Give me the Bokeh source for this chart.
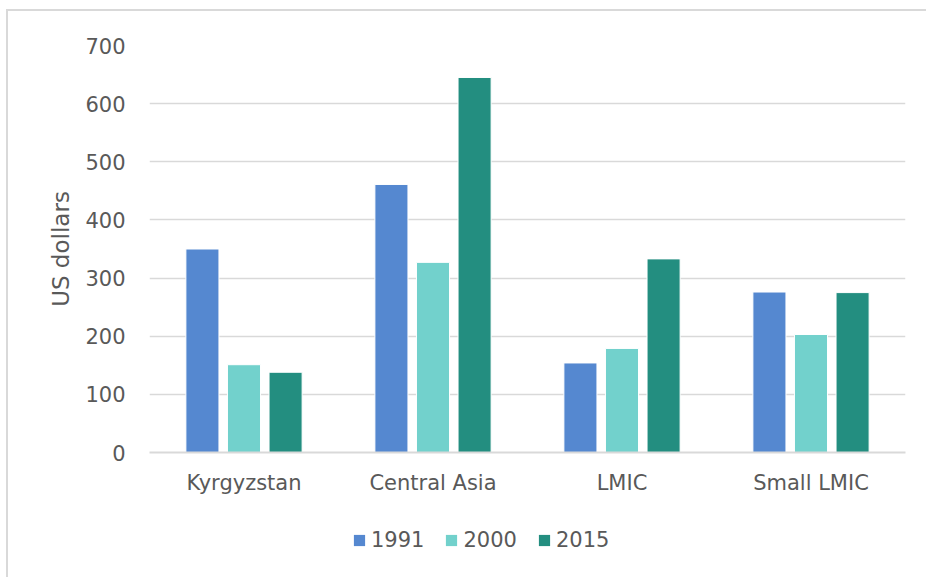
from bokeh.plotting import figure
from bokeh.models import ColumnDataSource, FactorRange, Legend, LegendItem, Range1d
from bokeh.layouts import column
from bokeh.transform import dodge
from bokeh.embed import file_html
from bokeh.resources import INLINE

categories = ["Kyrgyzstan", "Central Asia", "LMIC", "Small LMIC"]
years = ["1991", "2000", "2015"]
v1991 = [350, 461, 154, 276]
v2000 = [151, 327, 179, 203]
v2015 = [138, 645, 333, 275]
y_ticks = [0, 100, 200, 300, 400, 500, 600, 700]
colors = ["#5588d0", "#72d1cc", "#238e80"]

src = ColumnDataSource(data=dict(cat=categories, y1991=v1991, y2000=v2000, y2015=v2015))

FONT = "DejaVu Sans"
TXT = "#595959"
BORDER = "2px solid #d9d9d9"

p = figure(x_range=FactorRange(factors=categories), y_range=(0, 700),
           width=920, height=504, output_backend="svg", toolbar_location=None,
           min_border_left=141, min_border_right=23, min_border_top=34, min_border_bottom=63,
           outline_line_color=None, background_fill_color="white", border_fill_color="white")
p.styles = {"margin-left": "6px", "margin-top": "9px", "border-left": BORDER, "border-top": BORDER}

offsets = [-0.22, 0.0, 0.22]
fields = ["y1991", "y2000", "y2015"]
for off, f, c in zip(offsets, fields, colors):
    p.vbar(x=dodge("cat", off, range=p.x_range), top=f, width=0.175, source=src,
           fill_color=c, line_color="white", line_width=1)

# axes
p.yaxis.ticker = y_ticks
p.yaxis.axis_line_color = None
p.yaxis.major_tick_line_color = None
p.yaxis.minor_tick_line_color = None
p.yaxis.major_tick_in = 0
p.yaxis.major_tick_out = 0
p.yaxis.major_label_standoff = 24
p.yaxis.major_label_text_font = FONT
p.yaxis.major_label_text_font_size = "21px"
p.yaxis.major_label_text_color = TXT
p.yaxis.axis_label = "US dollars"
p.yaxis.axis_label_text_font = FONT
p.yaxis.axis_label_text_font_size = "23px"
p.yaxis.axis_label_text_font_style = "normal"
p.yaxis.axis_label_text_color = TXT
p.yaxis.axis_label_standoff = 8

p.xaxis.axis_line_color = "#d9d9d9"
p.xaxis.axis_line_width = 2
p.xaxis.major_tick_line_color = None
p.xaxis.minor_tick_line_color = None
p.xaxis.major_tick_in = 0
p.xaxis.major_tick_out = 0
p.xaxis.major_label_standoff = 18
p.xaxis.major_label_text_font = FONT
p.xaxis.major_label_text_font_size = "21px"
p.xaxis.major_label_text_color = TXT

p.xgrid.grid_line_color = None
p.ygrid.grid_line_color = "#d9d9d9"
p.ygrid.grid_line_width = 1.5

# legend strip below the chart; its series renderers map to nothing on its numeric x range,
# so only the legend swatches are drawn
p2 = figure(width=920, height=64, output_backend="svg", toolbar_location=None,
            x_range=Range1d(0, 1), y_range=Range1d(-2, -1),
            min_border=0, outline_line_color=None, border_fill_color="white",
            background_fill_color="white")
p2.styles = {"margin-left": "6px", "border-left": BORDER}
p2.axis.visible = False
p2.grid.visible = False
items = []
for f, yr, c in zip(fields, years, colors):
    r = p2.vbar(x="cat", top=f, bottom=f, width=0.175, source=src,
                fill_color=c, line_color=None)
    items.append(LegendItem(label=yr, renderers=[r]))
lg = Legend(items=items, orientation="horizontal", location=(203, 25), margin=0,
            padding=0, spacing=20, label_standoff=5, glyph_width=14, glyph_height=14,
            label_height=24, label_text_font=FONT, label_text_font_size="21px",
            label_text_color=TXT, border_line_color=None, background_fill_alpha=0)
p2.add_layout(lg, "center")

layout = column(p, p2, spacing=0)
open("out.html", "w").write(file_html(layout, INLINE))
